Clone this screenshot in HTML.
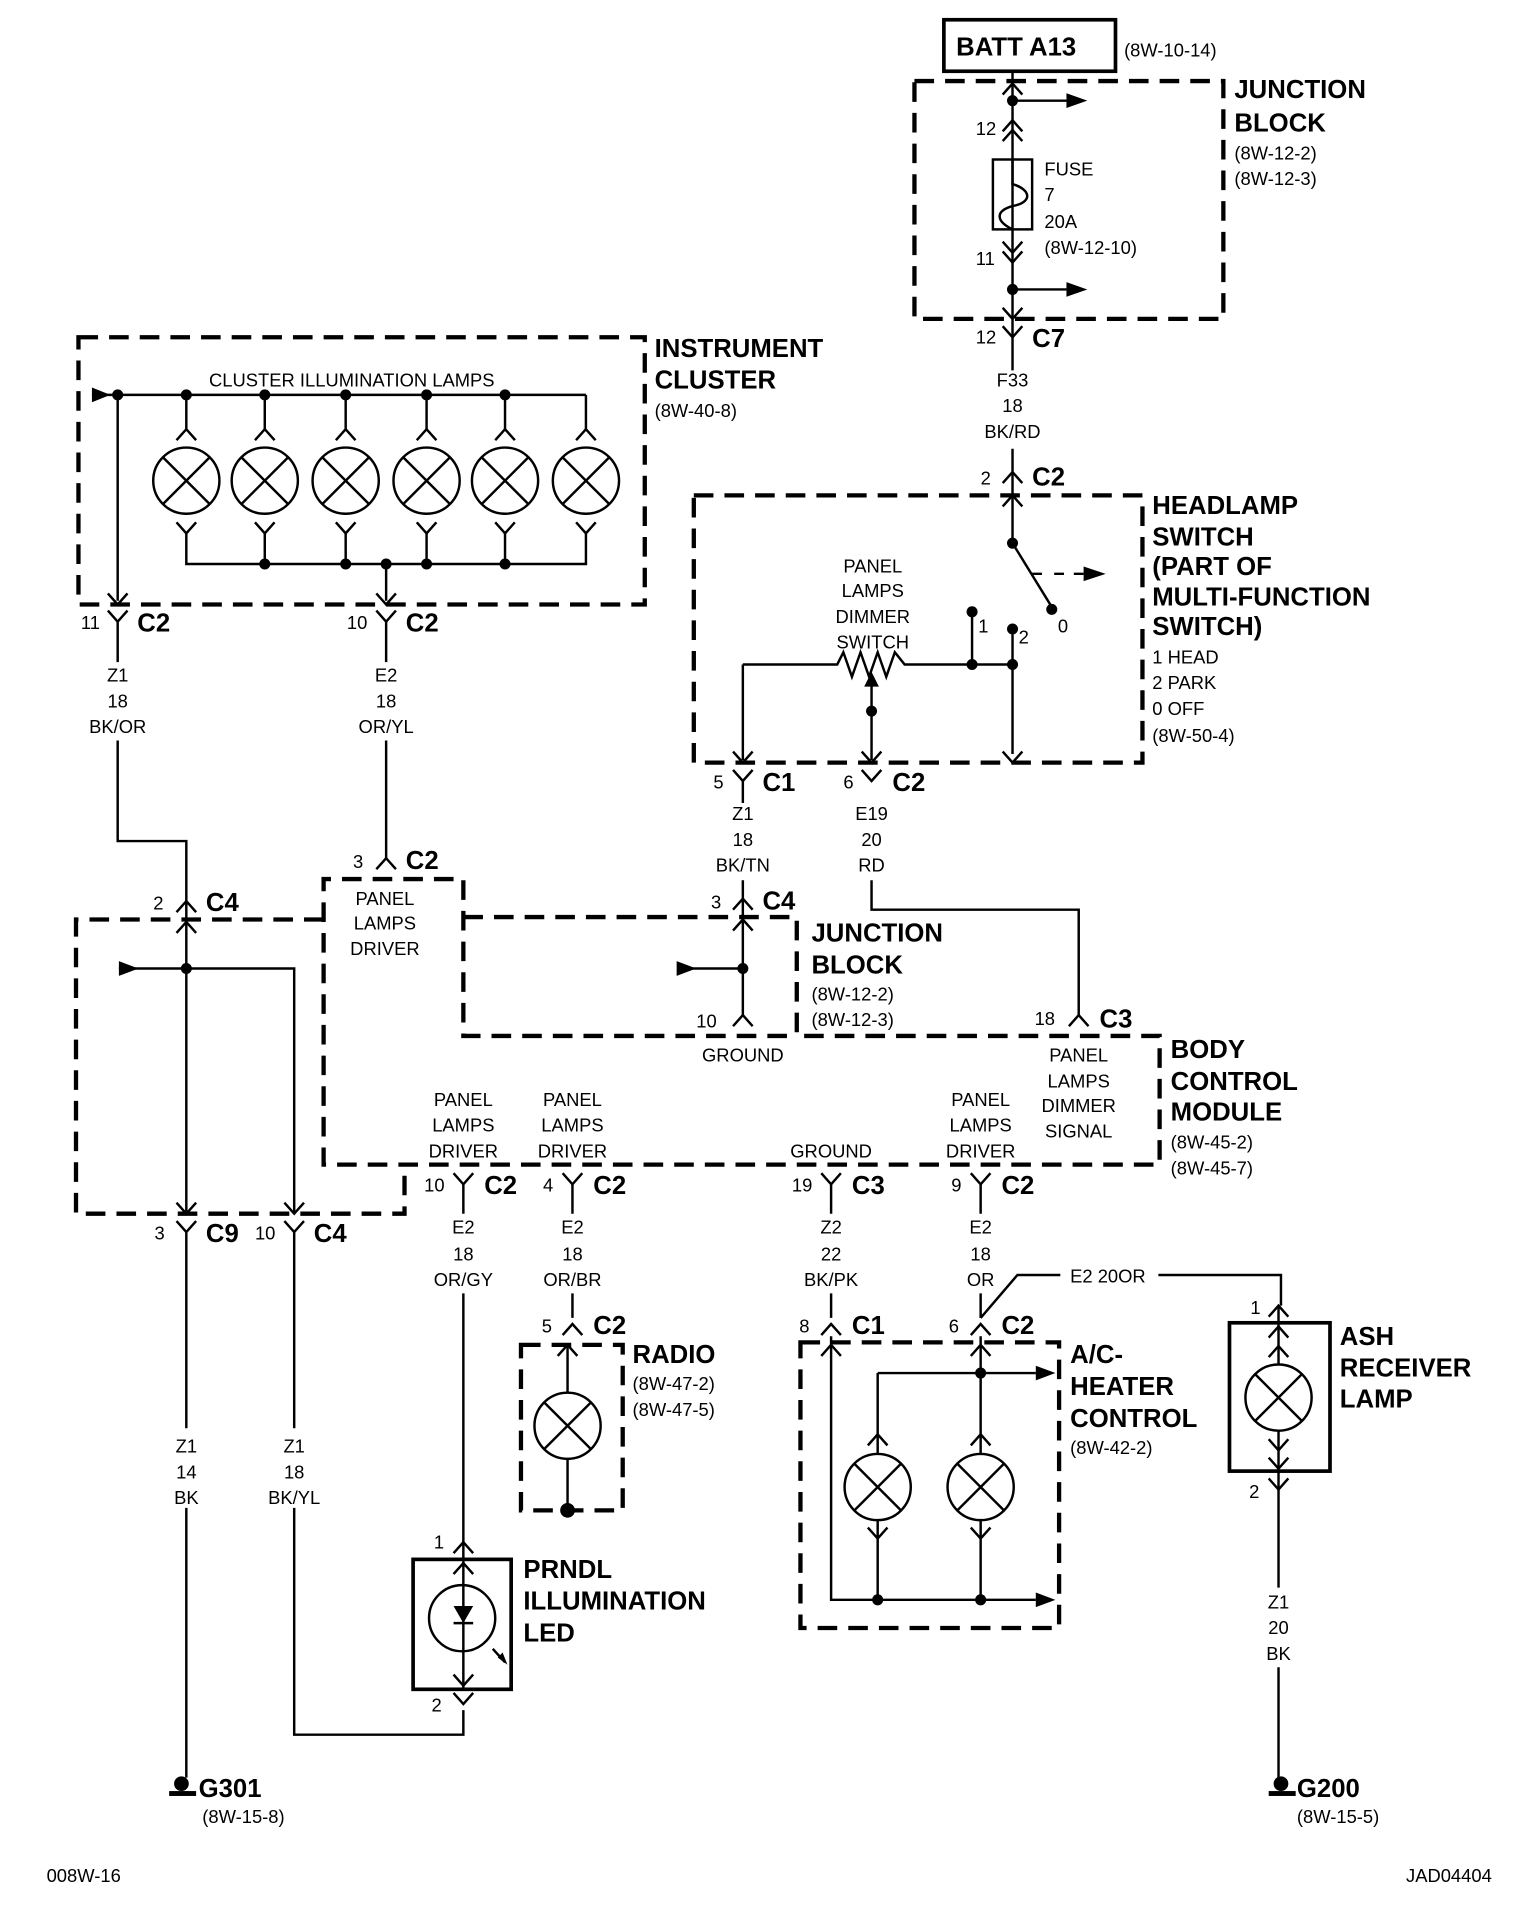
<!DOCTYPE html>
<html><head><meta charset="utf-8"><style>
html,body{margin:0;padding:0;background:#fff;}
svg{display:block;}
text{font-family:"Liberation Sans Narrow","Liberation Sans",sans-serif;fill:#000;}
.s{font-size:15px;}
.b{font-size:21px;font-weight:bold;}
.c{text-anchor:middle;}
</style></head><body>
<svg width="1520" height="1928" viewBox="0 0 1240 1572.6" xmlns="http://www.w3.org/2000/svg">
<defs>
<g id="L"><circle r="27" fill="none" stroke="#000" stroke-width="2"/><path d="M-19,-19L19,19M19,-19L-19,19" stroke="#000" stroke-width="2"/></g>
<path id="Y" d="M-8,-9L0,0L8,-9" fill="none" stroke="#000" stroke-width="2"/>
<path id="A" d="M-8,9L0,0L8,9" fill="none" stroke="#000" stroke-width="2"/>
</defs>
<g fill="none" stroke="#000" stroke-width="2">
<g stroke-width="3.5" stroke-dasharray="16 9">
<rect x="746" y="66" width="252" height="194"/>
<rect x="64" y="275" width="462" height="218"/>
<rect x="566" y="404" width="366" height="218"/>
<path d="M378,748H650V845H946V950H264V717H378V845H650"/>
<path d="M264,750H62V990H330V950"/>
<rect x="425" y="1097" width="83" height="135"/>
<rect x="653" y="1095" width="211" height="233"/>
</g>
<rect x="770" y="16" width="140" height="42" stroke-width="3"/>
<rect x="337" y="1272" width="80" height="106" stroke-width="3"/>
<rect x="1003" y="1079" width="82" height="121" stroke-width="3"/>
<path d="M826,58V302M826,366V443M826,82H870M826,236H870"/>
<rect x="810" y="130" width="32" height="57"/>
<path d="M826,130V150C842,155 842,165 826,168C812,172 812,180 826,187"/>
<path d="M826,443L858,495M842,468H850M860,468H868M876,468H884"/>
<path d="M793,499V542M826,513V615M606,542H683L688,532L695,552L702,532L709,552L716,532L723,552L730,532L738,542H826M606,542V620M711,580V556M711,580V620"/>
<path d="M711,718V742H880V828M606,637V655M606,718V828M606,790H560"/>
<path d="M75,322H478M152,322V350M216,322V350M282,322V350M348,322V350M412,322V350M478,322V350M152,435V460H478V435M216,435V460M282,435V460M348,435V460M412,435V460M96,322V490M315,460V490"/>
<path d="M96,507V540M96,604V686H152V990M315,507V540M315,604V700M152,790H97M152,790H240V990"/>
<path d="M152,1005V1165M152,1230V1450M240,1005V1165M240,1230V1415H378V1395M378,966V990M378,1055V1378"/>
<path d="M467,966V990M467,1055V1075M463,1097V1136M463,1190V1232M678,966V990M678,1055V1075M800,966V990M800,1055V1075M800,1075L830,1040H865M945,1040H1045V1065M1043,1065V1113M1043,1167V1295M1043,1360V1450"/>
<path d="M678,1090V1305H845M800,1090V1186M716,1120H845M716,1120V1186M716,1240V1305M800,1240V1305"/>
<path d="M402,1345L412,1356"/>
</g>
<g fill="#000">
<path d="M870,76L887,82L870,88ZM870,230L887,236L870,242ZM884,462L902,468L884,474ZM75,316L90,322L75,328ZM97,784L113,790L97,796ZM552,784L568,790L552,796ZM845,1114L861,1120L845,1126ZM845,1299L861,1305L845,1311ZM711,548L705,560L717,560Z"/>
<circle cx="826" cy="82" r="4.5"/><circle cx="826" cy="236" r="4.5"/><circle cx="826" cy="443" r="4.5"/><circle cx="858" cy="497" r="4.5"/><circle cx="793" cy="499" r="4.5"/><circle cx="826" cy="513" r="4.5"/><circle cx="793" cy="542" r="4.5"/><circle cx="826" cy="542" r="4.5"/><circle cx="711" cy="580" r="4.5"/>
<circle cx="96" cy="322" r="4.5"/><circle cx="152" cy="322" r="4.5"/><circle cx="216" cy="322" r="4.5"/><circle cx="282" cy="322" r="4.5"/><circle cx="348" cy="322" r="4.5"/><circle cx="412" cy="322" r="4.5"/>
<circle cx="216" cy="460" r="4.5"/><circle cx="282" cy="460" r="4.5"/><circle cx="315" cy="460" r="4.5"/><circle cx="348" cy="460" r="4.5"/><circle cx="412" cy="460" r="4.5"/>
<circle cx="152" cy="790" r="4.5"/><circle cx="606" cy="790" r="4.5"/><circle cx="800" cy="1120" r="4.5"/><circle cx="716" cy="1305" r="4.5"/><circle cx="800" cy="1305" r="4.5"/><circle cx="463" cy="1232" r="6"/>
<path d="M370,1310H386L378,1324Z"/>
<path d="M406,1352L414,1358L410,1348Z"/>
<circle cx="148" cy="1455" r="6"/><rect x="138" y="1461" width="22" height="4"/>
<circle cx="1045" cy="1455" r="6"/><rect x="1035" y="1461" width="22" height="4"/>
</g>
<path d="M370,1324H386" stroke="#000" stroke-width="2"/>
<use href="#L" x="152" y="392"/><use href="#L" x="216" y="392"/><use href="#L" x="282" y="392"/><use href="#L" x="348" y="392"/><use href="#L" x="412" y="392"/><use href="#L" x="478" y="392"/>
<use href="#L" x="463" y="1163"/><use href="#L" x="716" y="1213"/><use href="#L" x="800" y="1213"/><use href="#L" x="1043" y="1140"/>
<circle cx="377" cy="1320" r="27" fill="none" stroke="#000" stroke-width="2"/>
<use href="#A" x="826" y="68"/><use href="#A" x="826" y="98"/><use href="#A" x="826" y="106"/>
<use href="#Y" x="826" y="206"/><use href="#Y" x="826" y="214"/><use href="#Y" x="826" y="260"/><use href="#Y" x="826" y="275"/>
<use href="#A" x="826" y="385"/><use href="#A" x="826" y="404"/>
<use href="#Y" x="606" y="622"/><use href="#Y" x="711" y="622"/><use href="#Y" x="826" y="622"/><use href="#Y" x="606" y="637"/><use href="#Y" x="711" y="637"/>
<use href="#A" x="152" y="350"/><use href="#A" x="216" y="350"/><use href="#A" x="282" y="350"/><use href="#A" x="348" y="350"/><use href="#A" x="412" y="350"/><use href="#A" x="478" y="350"/>
<use href="#Y" x="152" y="435"/><use href="#Y" x="216" y="435"/><use href="#Y" x="282" y="435"/><use href="#Y" x="348" y="435"/><use href="#Y" x="412" y="435"/><use href="#Y" x="478" y="435"/>
<use href="#Y" x="96" y="493"/><use href="#Y" x="315" y="493"/><use href="#Y" x="96" y="507"/><use href="#Y" x="315" y="507"/>
<use href="#A" x="152" y="735"/><use href="#A" x="152" y="752"/><use href="#A" x="315" y="700"/><use href="#A" x="606" y="733"/><use href="#A" x="606" y="750"/><use href="#A" x="606" y="828"/><use href="#A" x="880" y="828"/>
<use href="#Y" x="152" y="990"/><use href="#Y" x="240" y="990"/><use href="#Y" x="152" y="1005"/><use href="#Y" x="240" y="1005"/>
<use href="#Y" x="378" y="966"/><use href="#Y" x="467" y="966"/><use href="#Y" x="678" y="966"/><use href="#Y" x="800" y="966"/>
<use href="#A" x="467" y="1080"/><use href="#A" x="463" y="1097"/><use href="#A" x="678" y="1080"/><use href="#A" x="800" y="1080"/><use href="#A" x="678" y="1097"/><use href="#A" x="800" y="1097"/>
<use href="#A" x="716" y="1170"/><use href="#A" x="800" y="1170"/><use href="#Y" x="716" y="1255"/><use href="#Y" x="800" y="1255"/>
<use href="#A" x="378" y="1258"/><use href="#A" x="378" y="1275"/><use href="#Y" x="378" y="1375"/><use href="#Y" x="378" y="1390"/>
<use href="#A" x="1043" y="1065"/><use href="#A" x="1043" y="1082"/><use href="#A" x="1043" y="1098"/><use href="#Y" x="1043" y="1183"/><use href="#Y" x="1043" y="1198"/><use href="#Y" x="1043" y="1215"/>
<text x="780" y="45" class="b">BATT A13</text><text x="917" y="46" class="s">(8W-10-14)</text>
<text x="1007" y="80" class="b">JUNCTION</text><text x="1007" y="107" class="b">BLOCK</text><text x="1007" y="130" class="s">(8W-12-2)</text><text x="1007" y="151" class="s">(8W-12-3)</text>
<text x="796" y="110" class="s">12</text><text x="852" y="143" class="s">FUSE</text><text x="852" y="164" class="s">7</text><text x="852" y="186" class="s">20A</text><text x="852" y="207" class="s">(8W-12-10)</text><text x="796" y="216" class="s">11</text>
<text x="796" y="280" class="s">12</text><text x="842" y="283" class="b">C7</text>
<text x="826" y="315" class="s c">F33</text><text x="826" y="336" class="s c">18</text><text x="826" y="357" class="s c">BK/RD</text>
<text x="800" y="395" class="s">2</text><text x="842" y="396" class="b">C2</text>
<text x="940" y="419" class="b">HEADLAMP</text><text x="940" y="445" class="b">SWITCH</text><text x="940" y="469" class="b">(PART OF</text><text x="940" y="494" class="b">MULTI-FUNCTION</text><text x="940" y="518" class="b">SWITCH)</text>
<text x="940" y="541" class="s">1 HEAD</text><text x="940" y="562" class="s">2 PARK</text><text x="940" y="583" class="s">0 OFF</text><text x="940" y="605" class="s">(8W-50-4)</text>
<text x="712" y="467" class="s c">PANEL</text><text x="712" y="487" class="s c">LAMPS</text><text x="712" y="508" class="s c">DIMMER</text><text x="712" y="529" class="s c">SWITCH</text>
<text x="798" y="516" class="s">1</text><text x="831" y="525" class="s">2</text><text x="863" y="516" class="s">0</text>
<text x="582" y="643" class="s">5</text><text x="622" y="645" class="b">C1</text><text x="688" y="643" class="s">6</text><text x="728" y="645" class="b">C2</text>
<text x="606" y="669" class="s c">Z1</text><text x="606" y="690" class="s c">18</text><text x="606" y="711" class="s c">BK/TN</text>
<text x="711" y="669" class="s c">E19</text><text x="711" y="690" class="s c">20</text><text x="711" y="711" class="s c">RD</text>
<text x="534" y="291" class="b">INSTRUMENT</text><text x="534" y="317" class="b">CLUSTER</text><text x="534" y="340" class="s">(8W-40-8)</text>
<text x="287" y="315" class="s c">CLUSTER ILLUMINATION LAMPS</text>
<text x="66" y="513" class="s">11</text><text x="112" y="515" class="b">C2</text><text x="283" y="513" class="s">10</text><text x="331" y="515" class="b">C2</text>
<text x="96" y="556" class="s c">Z1</text><text x="96" y="577" class="s c">18</text><text x="96" y="598" class="s c">BK/OR</text>
<text x="315" y="556" class="s c">E2</text><text x="315" y="577" class="s c">18</text><text x="315" y="598" class="s c">OR/YL</text>
<text x="288" y="708" class="s">3</text><text x="331" y="709" class="b">C2</text>
<text x="314" y="738" class="s c">PANEL</text><text x="314" y="758" class="s c">LAMPS</text><text x="314" y="779" class="s c">DRIVER</text>
<text x="125" y="742" class="s">2</text><text x="168" y="743" class="b">C4</text>
<text x="580" y="741" class="s">3</text><text x="622" y="742" class="b">C4</text>
<text x="662" y="768" class="b">JUNCTION</text><text x="662" y="794" class="b">BLOCK</text><text x="662" y="816" class="s">(8W-12-2)</text><text x="662" y="837" class="s">(8W-12-3)</text>
<text x="568" y="838" class="s">10</text><text x="606" y="866" class="s c">GROUND</text>
<text x="844" y="836" class="s">18</text><text x="897" y="838" class="b">C3</text>
<text x="880" y="866" class="s c">PANEL</text><text x="880" y="887" class="s c">LAMPS</text><text x="880" y="907" class="s c">DIMMER</text><text x="880" y="928" class="s c">SIGNAL</text>
<text x="955" y="863" class="b">BODY</text><text x="955" y="889" class="b">CONTROL</text><text x="955" y="914" class="b">MODULE</text><text x="955" y="937" class="s">(8W-45-2)</text><text x="955" y="958" class="s">(8W-45-7)</text>
<text x="378" y="902" class="s c">PANEL</text><text x="378" y="923" class="s c">LAMPS</text><text x="378" y="944" class="s c">DRIVER</text>
<text x="467" y="902" class="s c">PANEL</text><text x="467" y="923" class="s c">LAMPS</text><text x="467" y="944" class="s c">DRIVER</text>
<text x="678" y="944" class="s c">GROUND</text>
<text x="800" y="902" class="s c">PANEL</text><text x="800" y="923" class="s c">LAMPS</text><text x="800" y="944" class="s c">DRIVER</text>
<text x="346" y="972" class="s">10</text><text x="395" y="974" class="b">C2</text><text x="443" y="972" class="s">4</text><text x="484" y="974" class="b">C2</text>
<text x="646" y="972" class="s">19</text><text x="695" y="974" class="b">C3</text><text x="776" y="972" class="s">9</text><text x="817" y="974" class="b">C2</text>
<text x="126" y="1011" class="s">3</text><text x="168" y="1013" class="b">C9</text><text x="208" y="1011" class="s">10</text><text x="256" y="1013" class="b">C4</text>
<text x="378" y="1006" class="s c">E2</text><text x="378" y="1028" class="s c">18</text><text x="378" y="1049" class="s c">OR/GY</text>
<text x="467" y="1006" class="s c">E2</text><text x="467" y="1028" class="s c">18</text><text x="467" y="1049" class="s c">OR/BR</text>
<text x="678" y="1006" class="s c">Z2</text><text x="678" y="1028" class="s c">22</text><text x="678" y="1049" class="s c">BK/PK</text>
<text x="800" y="1006" class="s c">E2</text><text x="800" y="1028" class="s c">18</text><text x="800" y="1049" class="s c">OR</text>
<text x="873" y="1046" class="s">E2  20OR</text>
<text x="442" y="1087" class="s">5</text><text x="484" y="1088" class="b">C2</text>
<text x="516" y="1112" class="b">RADIO</text><text x="516" y="1134" class="s">(8W-47-2)</text><text x="516" y="1155" class="s">(8W-47-5)</text>
<text x="652" y="1087" class="s">8</text><text x="695" y="1088" class="b">C1</text><text x="774" y="1087" class="s">6</text><text x="817" y="1088" class="b">C2</text>
<text x="873" y="1112" class="b">A/C-</text><text x="873" y="1138" class="b">HEATER</text><text x="873" y="1164" class="b">CONTROL</text><text x="873" y="1186" class="s">(8W-42-2)</text>
<text x="1020" y="1072" class="s">1</text><text x="1093" y="1097" class="b">ASH</text><text x="1093" y="1123" class="b">RECEIVER</text><text x="1093" y="1148" class="b">LAMP</text>
<text x="1019" y="1222" class="s">2</text>
<text x="1043" y="1312" class="s c">Z1</text><text x="1043" y="1333" class="s c">20</text><text x="1043" y="1354" class="s c">BK</text>
<text x="152" y="1185" class="s c">Z1</text><text x="152" y="1206" class="s c">14</text><text x="152" y="1227" class="s c">BK</text>
<text x="240" y="1185" class="s c">Z1</text><text x="240" y="1206" class="s c">18</text><text x="240" y="1227" class="s c">BK/YL</text>
<text x="354" y="1263" class="s">1</text><text x="352" y="1396" class="s">2</text>
<text x="427" y="1287" class="b">PRNDL</text><text x="427" y="1313" class="b">ILLUMINATION</text><text x="427" y="1339" class="b">LED</text>
<text x="162" y="1466" class="b">G301</text><text x="165" y="1487" class="s">(8W-15-8)</text>
<text x="1058" y="1466" class="b">G200</text><text x="1058" y="1487" class="s">(8W-15-5)</text>
<text x="38" y="1535" class="s">008W-16</text><text x="1147" y="1535" class="s">JAD04404</text>
</svg>
</body></html>
